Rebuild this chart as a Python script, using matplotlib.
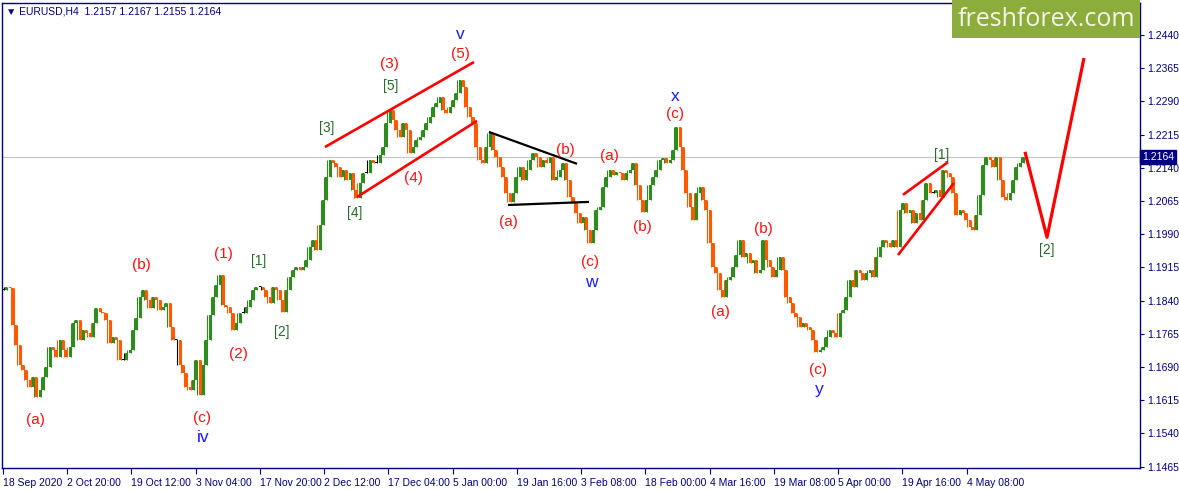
import numpy as np
import matplotlib.pyplot as plt
from matplotlib.patches import Rectangle

closes = [
    1.1864, 1.1871, 1.1868, 1.1785, 1.1740, 1.1695, 1.1683, 1.1661, 1.1645, 1.1667,
    1.1622, 1.1638, 1.1667, 1.1690, 1.1735, 1.1728, 1.1712, 1.1751, 1.1728, 1.1712,
    1.1735, 1.1789, 1.1796, 1.1751, 1.1773, 1.1767, 1.1758, 1.1789, 1.1823, 1.1814,
    1.1812, 1.1796, 1.1744, 1.1758, 1.1751, 1.1706, 1.1706, 1.1722, 1.1728, 1.1773,
    1.1801, 1.1848, 1.1864, 1.1841, 1.1823, 1.1848, 1.1841, 1.1819, 1.1826, 1.1835,
    1.1780, 1.1751, 1.1751, 1.1695, 1.1677, 1.1645,
    1.1638, 1.1661, 1.1706, 1.1627, 1.1695, 1.1751, 1.1808, 1.1848, 1.1875, 1.1898,
    1.1830, 1.1826, 1.1812, 1.1773, 1.1789, 1.1812, 1.1812, 1.1826, 1.1841, 1.1864,
    1.1871, 1.1871, 1.1864, 1.1848, 1.1835, 1.1871, 1.1864, 1.1841, 1.1814, 1.1864,
    1.1893, 1.1909, 1.1916, 1.1909, 1.1916, 1.1932, 1.1961, 1.1977, 1.1954, 1.2011,
    1.2067, 1.2119, 1.2158, 1.2151, 1.2142, 1.2119, 1.2135, 1.2112, 1.2128, 1.2090,
    1.2072, 1.2106, 1.2128, 1.2128, 1.2158,
    1.2151, 1.2151, 1.2169, 1.2187, 1.2241, 1.2271, 1.2248, 1.2225, 1.2209, 1.2241,
    1.2225, 1.2174, 1.2187, 1.2203, 1.2209, 1.2225, 1.2241, 1.2255, 1.2277, 1.2286,
    1.2300, 1.2271, 1.2264, 1.2277, 1.2293, 1.2309, 1.2338, 1.2323, 1.2277, 1.2255,
    1.2241, 1.2187, 1.2158, 1.2151, 1.2187, 1.2218, 1.2180, 1.2164, 1.2142, 1.2119,
    1.2083, 1.2063, 1.2083, 1.2119, 1.2142, 1.2112, 1.2135, 1.2158, 1.2174, 1.2164,
    1.2142, 1.2158, 1.2151, 1.2164, 1.2112, 1.2119,
    1.2135, 1.2151, 1.2112, 1.2074, 1.2060, 1.2038, 1.2015, 1.2029, 1.1999, 1.1970,
    1.1999, 1.2045, 1.2051, 1.2097, 1.2119, 1.2135, 1.2124, 1.2131, 1.2128, 1.2112,
    1.2128, 1.2135, 1.2151, 1.2101, 1.2067, 1.2040, 1.2067, 1.2101, 1.2119, 1.2135,
    1.2158, 1.2162, 1.2151, 1.2158, 1.2180, 1.2232, 1.2187, 1.2135, 1.2083, 1.2051,
    1.2022, 1.2083, 1.2097, 1.2067, 1.2045, 1.1970, 1.1916, 1.1902, 1.1864, 1.1848,
    1.1886, 1.1893, 1.1916, 1.1943, 1.1977,
    1.1939, 1.1948, 1.1925, 1.1932, 1.1902, 1.1909, 1.1977, 1.1932, 1.1916, 1.1893,
    1.1909, 1.1939, 1.1909, 1.1848, 1.1835, 1.1812, 1.1803, 1.1780, 1.1789, 1.1780,
    1.1773, 1.1751, 1.1724, 1.1728, 1.1735, 1.1758, 1.1773, 1.1767, 1.1758, 1.1812,
    1.1819, 1.1848, 1.1886, 1.1871, 1.1909, 1.1902, 1.1886, 1.1902, 1.1909, 1.1893,
    1.1939, 1.1961, 1.1977, 1.1970, 1.1961, 1.1977, 1.1961, 1.2045, 1.2060, 1.2038,
    1.2045, 1.2015, 1.2038, 1.2022, 1.2067, 1.2106,
    1.2083, 1.2083, 1.2090, 1.2074, 1.2135, 1.2128, 1.2119, 1.2083, 1.2033, 1.2045,
    1.2038, 1.2022, 1.2006, 1.1999, 1.2033, 1.2078, 1.2146, 1.2164, 1.2158, 1.2142,
    1.2164, 1.2112, 1.2074, 1.2067, 1.2083, 1.2112, 1.2142, 1.2151, 1.2164,
]
first_bar, last_bar = 3, 1023
last_price = 1.2164

date_labels = ['18 Sep 2020', '2 Oct 20:00', '19 Oct 12:00', '3 Nov 04:00', '17 Nov 20:00',
               '2 Dec 12:00', '17 Dec 04:00', '5 Jan 00:00', '19 Jan 16:00', '3 Feb 08:00',
               '18 Feb 00:00', '4 Mar 16:00', '19 Mar 08:00', '5 Apr 00:00', '19 Apr 16:00',
               '4 May 08:00']
price_ticks = [1.1465, 1.1540, 1.1615, 1.1690, 1.1765, 1.1840, 1.1915, 1.1990,
               1.2065, 1.2140, 1.2215, 1.2290, 1.2365, 1.2440]

# trend lines: (bars, prices, colour, width)
wave_lines = [
    ([325, 474], [1.2187, 1.2379], 'red', 1.9),
    ([357, 477], [1.2074, 1.2246], 'red', 1.9),
    ([489, 577], [1.2221, 1.2149], 'black', 1.6),
    ([508, 589], [1.2056, 1.2063], 'black', 1.6),
    ([903, 948], [1.2079, 1.2153], 'red', 1.9),
    ([898, 954], [1.1943, 1.2106], 'red', 1.9),
    ([1025, 1047, 1084], [1.2176, 1.1983, 1.2388], 'red', 2.3),
]

# wave labels: (text, bar, price, kind)
wave_labels = [
    ('(a)', 35, 1.1570, 'minor'), ('(b)', 141, 1.1921, 'minor'),
    ('(c)', 202, 1.1575, 'minor'), ('iv', 203, 1.1530, 'major'),
    ('(1)', 223, 1.1945, 'minor'), ('(2)', 238, 1.1720, 'minor'),
    ('[1]', 259, 1.1929, 'sub'), ('[2]', 282, 1.1770, 'sub'),
    ('[3]', 327, 1.2230, 'sub'), ('[4]', 355, 1.2038, 'sub'),
    ('(3)', 389, 1.2375, 'minor'), ('[5]', 391, 1.2325, 'sub'),
    ('(4)', 413, 1.2117, 'minor'),
    ('v', 460, 1.2442, 'major'), ('(5)', 460, 1.2397, 'minor'),
    ('(a)', 508, 1.2018, 'minor'), ('(b)', 565, 1.2180, 'minor'),
    ('(c)', 590, 1.1927, 'minor'), ('w', 591, 1.1880, 'major'),
    ('(a)', 609, 1.2167, 'minor'), ('(b)', 642, 1.2006, 'minor'),
    ('x', 675, 1.2300, 'major'), ('(c)', 675, 1.2262, 'minor'),
    ('(a)', 720, 1.1814, 'minor'), ('(b)', 763, 1.2002, 'minor'),
    ('(c)', 818, 1.1683, 'minor'), ('y', 819, 1.1640, 'major'),
    ('[1]', 942, 1.2169, 'sub'), ('[2]', 1047, 1.1954, 'sub'),
]
label_style = {
    'minor': dict(color='#ff1010', fontsize=11),
    'major': dict(color='#1a1aff', fontsize=12.5),
    'sub': dict(color='#2a6a2a', fontsize=10),
}

navy = '#000080'
W, H = 1179, 490
fig = plt.figure(figsize=(W / 100, H / 100), dpi=100)
ax = fig.add_axes([2 / W, 22 / H, 1138 / W, 465 / H])
ax.set_xlim(2, 1140)
ax.set_ylim(1.14619, 1.25123)

# candles: body from previous close, wick reaching the neighbouring closes
bars = np.linspace(first_bar, last_bar, len(closes))
c = np.array(closes)
o = np.concatenate([[c[0]], c[:-1]])
nxt = np.concatenate([c[1:], [c[-1]]])
cols = np.where(c > o, '#2e8b1e', np.where(c < o, '#ff5a00', 'black'))
lo = np.minimum(o, c)
hi = np.maximum(o, c)
hi = np.where(hi - lo < 0.0003, lo + 0.0003, hi)
wick_lo = np.minimum(lo, nxt)
wick_hi = np.maximum(hi, nxt)
ax.vlines(bars + 1.1, wick_lo, wick_hi, colors=cols, linewidth=0.8)
ax.vlines(bars, lo, hi, colors=cols, linewidth=1.5)

ax.axhline(last_price, color='#c8c8c8', linewidth=0.9, zorder=0)

for xs, ps, colr, lw in wave_lines:
    ax.plot(xs, ps, color=colr, linewidth=lw, solid_capstyle='butt')

for txt, bx, pr, kind in wave_labels:
    ax.text(bx, pr, txt, ha='center', va='center', family='Liberation Sans', **label_style[kind])

# axes styling
for s in ax.spines.values():
    s.set_color(navy)
    s.set_linewidth(1.0)
ax.yaxis.tick_right()
ax.set_yticks(price_ticks)
ax.set_yticklabels([f'{p:.4f}' for p in price_ticks], family='Liberation Sans')
ax.tick_params(axis='y', colors=navy, labelcolor=navy, labelsize=7.5, length=3, pad=2, direction='out')
ax.set_xticks(first_bar + 64.25 * np.arange(len(date_labels)))
ax.set_xticklabels(date_labels, ha='left', family='Liberation Sans')
ax.tick_params(axis='x', colors=navy, labelcolor=navy, labelsize=7.5, length=4, pad=3, direction='out')

ax.text(1.0015, last_price, f'{last_price:.4f}', transform=ax.get_yaxis_transform(),
        ha='left', va='center', color='white', fontsize=7.5, family='Liberation Sans',
        bbox=dict(boxstyle='square,pad=0.2', facecolor=navy, edgecolor=navy))

ax.text(4 / 1138, 1 - 8 / 465, '\u25bc EURUSD,H4  1.2157 1.2167 1.2155 1.2164',
        transform=ax.transAxes, ha='left', va='center', color=navy, fontsize=7.5,
        family=['Liberation Sans', 'DejaVu Sans'])

# logo
fig.patches.append(Rectangle((952 / W, 1 - 38 / H), 188 / W, 38 / H, transform=fig.transFigure,
                             facecolor='#8cad3c', edgecolor='none', zorder=5))
fig.text(1046 / W, 1 - 20 / H, 'freshforex.com', ha='center', va='center', color='#f4f4e8',
         fontsize=18, family='Open Sans', zorder=6)

fig.savefig('out.png', dpi=100)
